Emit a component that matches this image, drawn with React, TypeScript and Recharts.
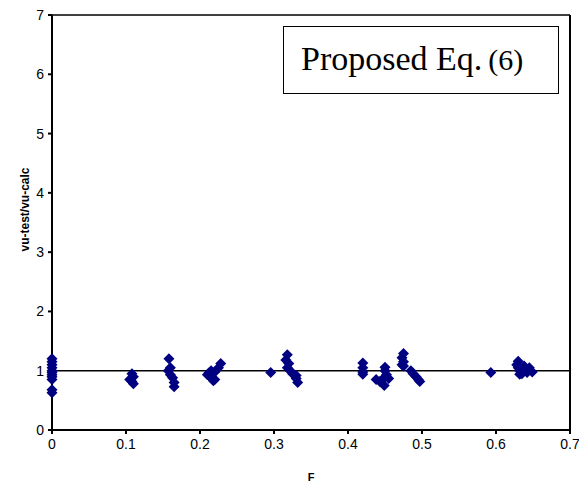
import React from "react";
import {
  ScatterChart,
  Scatter,
  XAxis,
  YAxis,
  ReferenceLine,
} from "recharts";

const xValues = [
  0, 0, 0, 0, 0, 0, 0, 0, 0, 0, 0,
  0.108, 0.11, 0.105, 0.108, 0.11,
  0.158, 0.16, 0.157, 0.16, 0.163, 0.165, 0.165,
  0.21, 0.215, 0.22, 0.22, 0.225, 0.228, 0.215, 0.218, 0.212,
  0.2955,
  0.318, 0.316, 0.32, 0.318, 0.322, 0.325, 0.33, 0.33, 0.332,
  0.42, 0.42, 0.42, 0.42,
  0.438, 0.443, 0.449, 0.45, 0.45, 0.452, 0.455, 0.45,
  0.475, 0.473, 0.475, 0.475, 0.473,
  0.485, 0.488, 0.492, 0.495, 0.497,
  0.593,
  0.63, 0.628, 0.63, 0.632, 0.632, 0.638, 0.64, 0.642, 0.645, 0.649, 0.635,
];

const yValues = [
  1.2, 1.15, 1.1, 1.05, 1.0, 0.97, 0.93, 0.9, 0.85, 0.68, 0.63,
  0.95, 0.9, 0.85, 0.82, 0.78,
  1.2, 1.05, 1.0, 0.93, 0.88, 0.8, 0.73,
  0.93, 0.88, 0.98, 0.85, 1.05, 1.12, 1.0, 0.83, 0.96,
  0.97,
  1.27, 1.18, 1.12, 1.05, 1.0, 0.95, 0.92, 0.87, 0.8,
  1.13, 1.05, 0.98, 0.94,
  0.85, 0.82, 0.75, 1.06, 1.0, 0.93, 0.87, 0.9,
  1.29, 1.22, 1.15, 1.08, 1.1,
  1.0, 0.95, 0.9, 0.85, 0.82,
  0.97,
  1.16, 1.1, 1.05, 1.0, 0.94, 1.08, 1.02, 0.97, 1.05, 0.98, 0.95,
];

const xTicks = [0, 0.1, 0.2, 0.3, 0.4, 0.5, 0.6, 0.7];
const yTicks = [0, 1, 2, 3, 4, 5, 6, 7];

const points = xValues.map((x, i) => ({ x, y: yValues[i] }));

const Diamond = (props: any) => {
  const { cx, cy } = props;
  const r = 5.5;
  return (
    <polygon
      points={`${cx},${cy - r} ${cx + r},${cy} ${cx},${cy + r} ${cx - r},${cy}`}
      fill="#000080"
    />
  );
};

const font = "Arial, 'Liberation Sans', sans-serif";
const tickStyle = { fontSize: 14, fill: "#000", fontFamily: font };

export default function App() {
  return (
    <div style={{ position: "absolute", left: 0, top: 0, width: 579, height: 489, background: "#fff" }}>
      <ScatterChart
        width={579}
        height={489}
        margin={{ top: 15, right: 9, bottom: 0, left: 0 }}
      >
        <XAxis
          type="number"
          dataKey="x"
          domain={[0, 0.7]}
          ticks={xTicks}
          tickFormatter={(v: number) => String(v)}
          height={59}
          stroke="#000"
          strokeWidth={2}
          tickSize={4}
          tick={tickStyle}
          tickMargin={5}
          label={{
            value: "F",
            position: "insideBottom",
            offset: 8,
            style: { fontSize: 11, fontWeight: "bold", fill: "#000", fontFamily: font },
          }}
        />
        <YAxis
          type="number"
          dataKey="y"
          domain={[0, 7]}
          ticks={yTicks}
          width={52}
          stroke="#000"
          strokeWidth={2}
          tickSize={4}
          tick={tickStyle}
          tickMargin={4}
          label={{
            content: (p: any) => {
              const vb = p.viewBox;
              const cy = vb.y + vb.height / 2 - 13;
              return (
                <text
                  x={25}
                  y={cy}
                  transform={`rotate(-90, 25, ${cy})`}
                  textAnchor="middle"
                  dominantBaseline="central"
                  style={{ fontSize: 12, fontWeight: "bold", fill: "#000", fontFamily: font }}
                >
                  vu-test/vu-calc
                </text>
              );
            },
          }}
        />
        <ReferenceLine y={7} stroke="#000" strokeWidth={1.5} />
        <ReferenceLine x={0.7} stroke="#000" strokeWidth={2} />
        <ReferenceLine y={1} stroke="#000" strokeWidth={1.5} />
        <Scatter data={points} shape={Diamond} isAnimationActive={false} />
      </ScatterChart>
      <div
        style={{
          position: "absolute",
          left: 283,
          top: 26,
          width: 276,
          height: 68,
          border: "1.5px solid #000",
          background: "#fff",
          fontFamily: "'Times New Roman', 'Liberation Serif', serif",
          paddingLeft: 17,
          paddingTop: 13,
          boxSizing: "border-box",
          color: "#000",
          whiteSpace: "nowrap",
          lineHeight: "normal",
        }}
      >
        <span style={{ fontSize: 34 }}>Proposed Eq.</span>
        <span style={{ fontSize: 30, marginLeft: 6 }}>(6)</span>
      </div>
    </div>
  );
}
